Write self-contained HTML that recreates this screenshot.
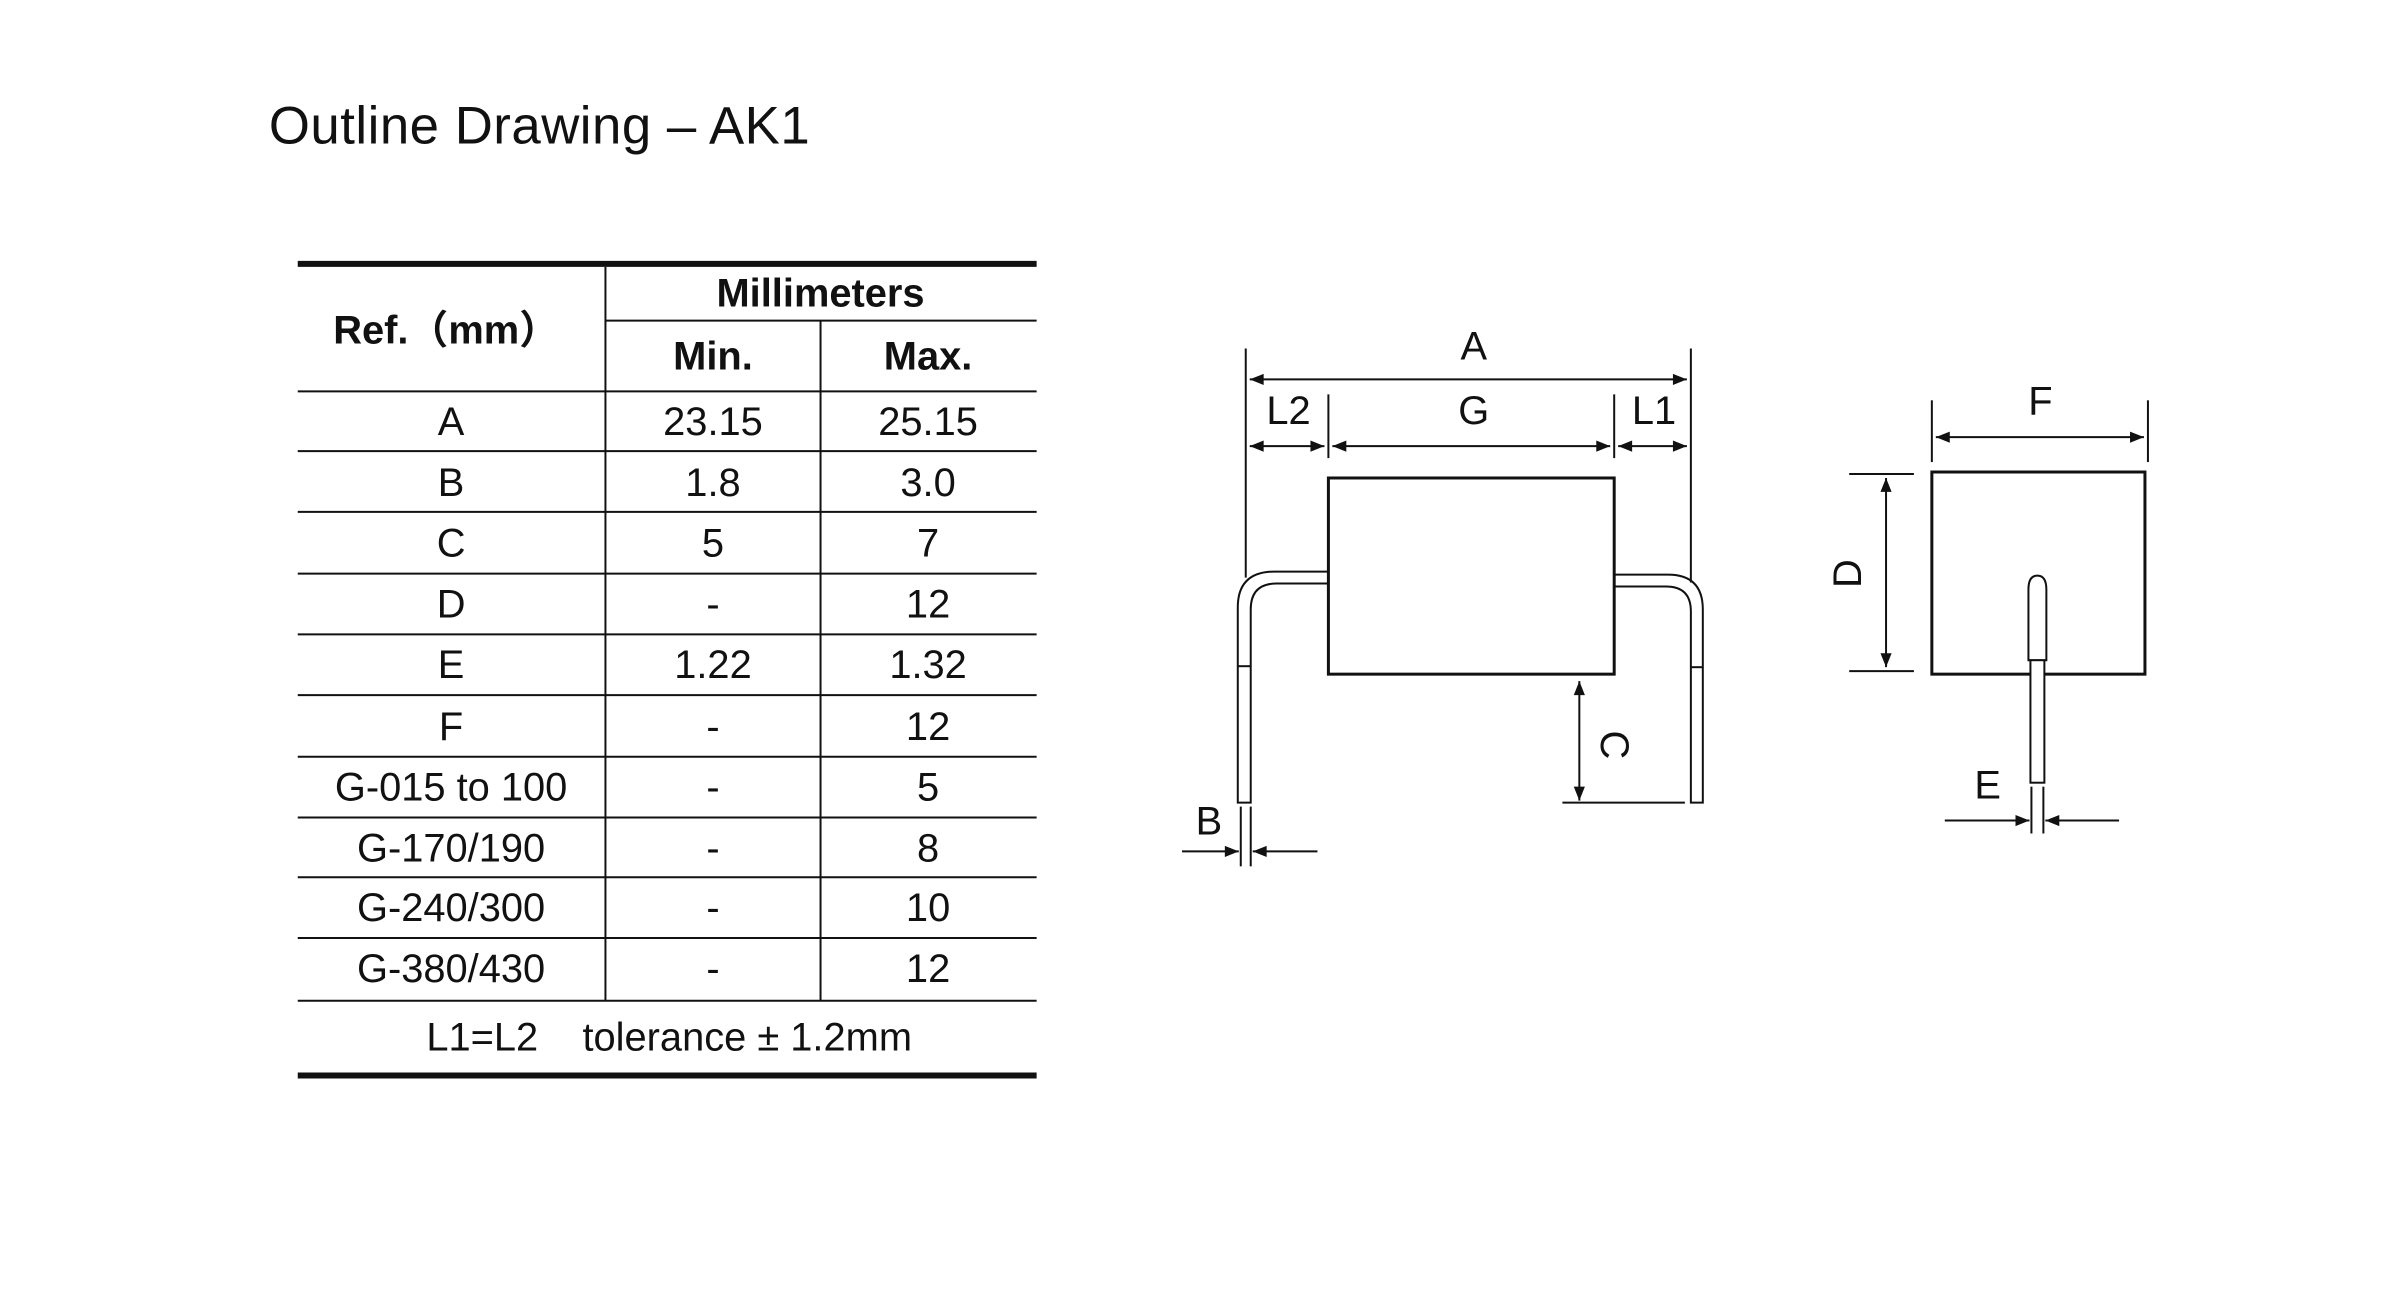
<!DOCTYPE html>
<html><head><meta charset="utf-8"><style>
html,body{margin:0;padding:0;background:#fff;}
svg{display:block;}
text{font-family:"Liberation Sans","Noto Sans CJK SC",sans-serif;fill:#111;}
</style></head><body>
<svg width="2394" height="1298" viewBox="0 0 2394 1298" xmlns="http://www.w3.org/2000/svg">
<defs>
<marker id="ar" viewBox="0 0 10 10" refX="10" refY="5" markerWidth="18" markerHeight="14" markerUnits="userSpaceOnUse" orient="auto-start-reverse"><path d="M0,1 L10,5 L0,9 z" fill="#111"/></marker>
</defs>
<g transform="scale(0.9958)">
<text x="270" y="144" font-size="53" letter-spacing="0.5">Outline Drawing – AK1</text>

<g stroke="#111" fill="none">
<line x1="299" y1="265" x2="1041" y2="265" stroke-width="6"/>
<line x1="299" y1="1080" x2="1041" y2="1080" stroke-width="6"/>
<line x1="608" y1="268" x2="608" y2="1005" stroke-width="2"/>
<line x1="824" y1="322" x2="824" y2="1005" stroke-width="2"/>
<line x1="608" y1="322" x2="1041" y2="322" stroke-width="2"/>
<g stroke-width="2">
<line x1="299" y1="393" x2="1041" y2="393"/>
<line x1="299" y1="453" x2="1041" y2="453"/>
<line x1="299" y1="514" x2="1041" y2="514"/>
<line x1="299" y1="576" x2="1041" y2="576"/>
<line x1="299" y1="637" x2="1041" y2="637"/>
<line x1="299" y1="698" x2="1041" y2="698"/>
<line x1="299" y1="760" x2="1041" y2="760"/>
<line x1="299" y1="821" x2="1041" y2="821"/>
<line x1="299" y1="881" x2="1041" y2="881"/>
<line x1="299" y1="942" x2="1041" y2="942"/>
<line x1="299" y1="1005" x2="1041" y2="1005"/>
</g>
</g>
<g font-size="40" text-anchor="middle">
<text x="824" y="308" font-weight="bold">Millimeters</text>
<text x="448" y="345" font-weight="bold">Ref.（mm）</text>
<text x="716" y="371" font-weight="bold">Min.</text>
<text x="932" y="371" font-weight="bold">Max.</text>
<g>
<text x="453" y="437">A</text><text x="716" y="437">23.15</text><text x="932" y="437">25.15</text>
<text x="453" y="498">B</text><text x="716" y="498">1.8</text><text x="932" y="498">3.0</text>
<text x="453" y="559">C</text><text x="716" y="559">5</text><text x="932" y="559">7</text>
<text x="453" y="620">D</text><text x="716" y="620">-</text><text x="932" y="620">12</text>
<text x="453" y="681">E</text><text x="716" y="681">1.22</text><text x="932" y="681">1.32</text>
<text x="453" y="743">F</text><text x="716" y="743">-</text><text x="932" y="743">12</text>
<text x="453" y="804">G-015 to 100</text><text x="716" y="804">-</text><text x="932" y="804">5</text>
<text x="453" y="865">G-170/190</text><text x="716" y="865">-</text><text x="932" y="865">8</text>
<text x="453" y="925">G-240/300</text><text x="716" y="925">-</text><text x="932" y="925">10</text>
<text x="453" y="986">G-380/430</text><text x="716" y="986">-</text><text x="932" y="986">12</text>
<text x="672" y="1055" xml:space="preserve">L1=L2    tolerance ± 1.2mm</text>
</g>
</g>

<g stroke="#111" fill="none" stroke-width="2">
<rect x="1334" y="480" width="287" height="197" stroke-width="3"/>
<line x1="1251" y1="350" x2="1251" y2="580"/>
<line x1="1698" y1="350" x2="1698" y2="585"/>
<line x1="1334" y1="396" x2="1334" y2="460"/>
<line x1="1621" y1="396" x2="1621" y2="460"/>
<line x1="1255" y1="381" x2="1694" y2="381" marker-start="url(#ar)" marker-end="url(#ar)"/>
<line x1="1255" y1="448" x2="1330" y2="448" marker-start="url(#ar)" marker-end="url(#ar)"/>
<line x1="1338" y1="448" x2="1617" y2="448" marker-start="url(#ar)" marker-end="url(#ar)"/>
<line x1="1625" y1="448" x2="1694" y2="448" marker-start="url(#ar)" marker-end="url(#ar)"/>
<path d="M1334,574 L1280,574 Q1243,574 1243,610 L1243,806 L1256,806 L1256,612 Q1256,586 1282,586 L1334,586"/>
<line x1="1243" y1="669" x2="1256" y2="669"/>
<path d="M1621,577 L1675,577 Q1710,577 1710,612 L1710,806 L1698,806 L1698,614 Q1698,589 1673,589 L1621,589"/>
<line x1="1698" y1="670" x2="1710" y2="670"/>
<line x1="1586" y1="684" x2="1586" y2="804" marker-start="url(#ar)" marker-end="url(#ar)"/>
<line x1="1569" y1="806" x2="1692" y2="806"/>
<line x1="1246" y1="810" x2="1246" y2="870"/>
<line x1="1256" y1="810" x2="1256" y2="870"/>
<line x1="1187" y1="855" x2="1244" y2="855" marker-end="url(#ar)"/>
<line x1="1323" y1="855" x2="1258" y2="855" marker-end="url(#ar)"/>
</g>
<g font-size="40" text-anchor="middle">
<text x="1480" y="361">A</text>
<text x="1294" y="426">L2</text>
<text x="1480" y="426">G</text>
<text x="1661" y="426">L1</text>
<text x="1214" y="838">B</text>
<text transform="translate(1608,748) rotate(90)" x="0" y="0">C</text>
</g>

<g stroke="#111" fill="none" stroke-width="2">
<rect x="1940" y="474" width="214" height="203" stroke-width="3"/>
<line x1="1940" y1="402" x2="1940" y2="464"/>
<line x1="2157" y1="402" x2="2157" y2="464"/>
<line x1="1944" y1="439" x2="2153" y2="439" marker-start="url(#ar)" marker-end="url(#ar)"/>
<line x1="1857" y1="476" x2="1922" y2="476"/>
<line x1="1857" y1="674" x2="1922" y2="674"/>
<line x1="1894" y1="480" x2="1894" y2="670" marker-start="url(#ar)" marker-end="url(#ar)"/>
<path d="M2037,663 L2037,592 Q2037,578 2046,578 Q2055,578 2055,592 L2055,663 Z" fill="#fff"/>
<rect x="2039" y="663" width="14" height="123" fill="#fff"/>
<line x1="2040" y1="790" x2="2040" y2="837"/>
<line x1="2052" y1="790" x2="2052" y2="837"/>
<line x1="1953" y1="824" x2="2038" y2="824" marker-end="url(#ar)"/>
<line x1="2128" y1="824" x2="2054" y2="824" marker-end="url(#ar)"/>
</g>
<g font-size="40" text-anchor="middle">
<text x="2049" y="416">F</text>
<text x="1996" y="802">E</text>
<text transform="translate(1869,576) rotate(-90)" x="0" y="0">D</text>
</g>
</g>
</svg>
</body></html>
